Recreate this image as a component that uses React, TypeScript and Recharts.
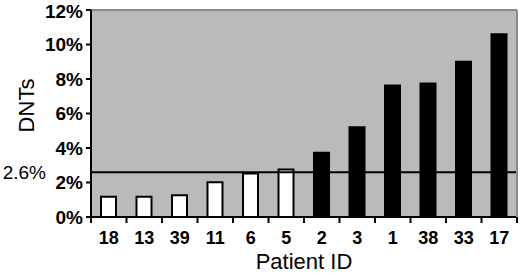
import React from 'react';
import { BarChart, Bar, XAxis, YAxis, Cell, ReferenceLine, CartesianGrid } from 'recharts';

const patientIds = ['18', '13', '39', '11', '6', '5', '2', '3', '1', '38', '33', '17'];
const dntPercent = [1.17, 1.17, 1.26, 2.02, 2.52, 2.75, 3.72, 5.2, 7.62, 7.74, 9.0, 10.6];
const aboveThreshold = [false, false, false, false, false, false, true, true, true, true, true, true];
const yTicks = [0, 2, 4, 6, 8, 10, 12];
const threshold = 2.6;
const thresholdLabel = '2.6%';

const data = patientIds.map((id, i) => ({ id, value: dntPercent[i], high: aboveThreshold[i] }));

const FONT = '"Liberation Sans", Arial, Helvetica, sans-serif';

const XTick = (props: any) => {
  const { x, y, payload, index, width, visibleTicksCount } = props;
  const band = width / visibleTicksCount;
  const left = x - band / 2;
  const right = x + band / 2;
  return (
    <g>
      <line x1={left} x2={left} y1={y} y2={y + 6} stroke="#000" strokeWidth={2} />
      {index === visibleTicksCount - 1 && (
        <line x1={right} x2={right} y1={y} y2={y + 6} stroke="#000" strokeWidth={2} />
      )}
      <text x={x} y={y + 27} textAnchor="middle" fontFamily={FONT} fontWeight="bold" fontSize={18} fill="#000">
        {payload.value}
      </text>
    </g>
  );
};

export default function App() {
  return (
    <div style={{ position: 'absolute', left: 0, top: 0, width: 520, height: 275, background: '#fff' }}>
      <BarChart width={520} height={275} data={data} margin={{ top: 10, right: 0, left: 0, bottom: 0 }}>
        <CartesianGrid fill="#bababa" fillOpacity={1} stroke="none" horizontal={false} vertical={false} />
        <XAxis
          dataKey="id"
          type="category"
          interval={0}
          height={58}
          tickSize={0}
          tickMargin={0}
          tickLine={false}
          axisLine={{ stroke: '#000', strokeWidth: 2 }}
          tick={<XTick />}
          label={{
            content: (p: any) => {
              const vb = p.viewBox || {};
              return (
                <text x={vb.x + vb.width / 2} y={vb.y + 52} textAnchor="middle" fontFamily={FONT} fontSize={22} fill="#000">
                  Patient ID
                </text>
              );
            },
          }}
        />
        <YAxis
          type="number"
          domain={[0, 12]}
          ticks={yTicks}
          width={91}
          tickSize={5}
          tickMargin={3}
          tickFormatter={(v: number) => `${v}%`}
          tick={{ fill: '#000', fontSize: 19, fontWeight: 'bold', fontFamily: FONT }}
          tickLine={{ stroke: '#000', strokeWidth: 2 }}
          axisLine={{ stroke: '#000', strokeWidth: 2 }}
          label={{
            content: (p: any) => {
              const vb = p.viewBox || {};
              const cy = vb.y + vb.height / 2 - 8;
              return (
                <text x={26} y={cy} transform={`rotate(-90 26 ${cy})`} textAnchor="middle" dominantBaseline="central" fontFamily={FONT} fontSize={22} fill="#000">
                  DNTs
                </text>
              );
            },
          }}
        />
        <YAxis
          yAxisId="right"
          orientation="right"
          type="number"
          domain={[0, 12]}
          width={3}
          tick={false}
          tickLine={false}
          axisLine={{ stroke: '#8a8a8a', strokeWidth: 2 }}
        />
        <Bar dataKey="value" barSize={15} isAnimationActive={false} stroke="#000" strokeWidth={2}>
          {data.map((d, i) => (
            <Cell key={i} fill={d.high ? '#000' : '#fff'} />
          ))}
        </Bar>
        <ReferenceLine
          y={threshold}
          stroke="#000"
          strokeWidth={2}
          label={{ value: thresholdLabel, position: 'left', offset: 45, fontSize: 19, fill: '#000', fontFamily: FONT }}
        />
        <ReferenceLine y={12} stroke="#8a8a8a" strokeWidth={2} />
      </BarChart>
    </div>
  );
}
